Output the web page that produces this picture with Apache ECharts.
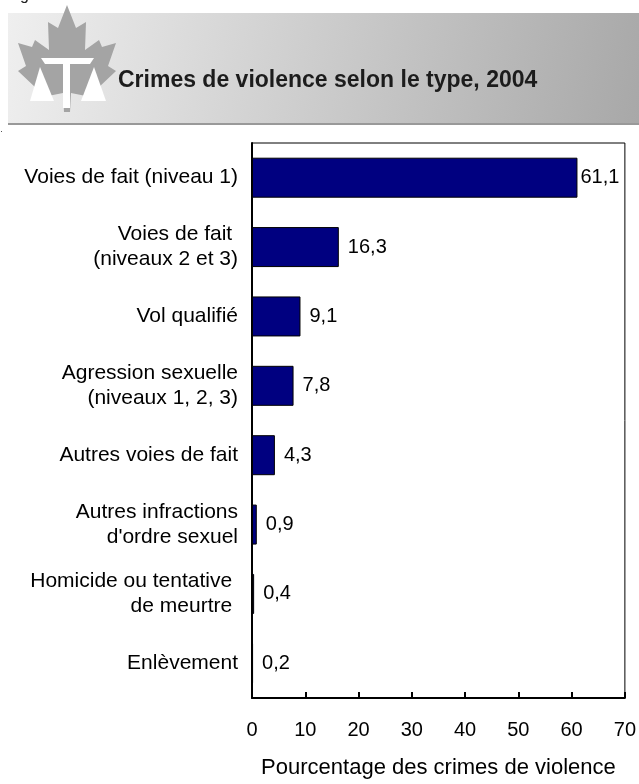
<!DOCTYPE html>
<html>
<head>
<meta charset="utf-8">
<script src="https://cdn.jsdelivr.net/npm/echarts@6/dist/echarts.min.js"></script>
<style>
html,body{margin:0;padding:0;background:#fff;}
#chart{width:639px;height:784px;}
</style>
</head>
<body>
<div id="chart"></div>
<script>
var categories = [
  'Voies de fait (niveau 1)',
  'Voies de fait \n(niveaux 2 et 3)',
  'Vol qualifié',
  'Agression sexuelle\n(niveaux 1, 2, 3)',
  'Autres voies de fait',
  'Autres infractions\nd\'ordre sexuel',
  'Homicide ou tentative \nde meurtre ',
  'Enlèvement'
];
var values = [61.1, 16.3, 9.1, 7.8, 4.3, 0.9, 0.4, 0.2];
var xTicks = [0, 10, 20, 30, 40, 50, 60, 70];
var titleText = 'Crimes de violence selon le type, 2004';
var axisTitle = 'Pourcentage des crimes de violence';

var chart = echarts.init(document.getElementById('chart'), null, {renderer: 'canvas'});

// maple leaf (right half, mirrored about x = 67)
var half = [[67,5],[76,28],[86,22],[85,50],[99,40],[102,47],[116,43],[108,66],[116,71],[98,88],[101,99],[71,93],[70,112]];
var leaf = half.slice();
for (var i = half.length - 1; i >= 0; i--) { leaf.push([134 - half[i][0], half[i][1]]); }

var font = '"Liberation Sans", Arial, sans-serif';

chart.setOption({
  animation: false,
  textStyle: {fontFamily: font},
  graphic: [
    {type: 'rect', shape: {x: 8, y: 13, width: 631, height: 112},
     style: {fill: new echarts.graphic.LinearGradient(0, 0, 1, 1, [
       {offset: 0, color: '#efefef'}, {offset: 1, color: '#a8a8a8'}])}},
    {type: 'rect', shape: {x: 8, y: 123, width: 631, height: 2}, style: {fill: '#999999'}},
    {type: 'polygon', shape: {points: leaf}, style: {fill: '#a4a4a4'}},
    {type: 'polygon', shape: {points: [[41,58],[94,58],[90,64],[70,64],[67,67],[64,64],[45,64]]}, style: {fill: '#ffffff'}},
    {type: 'rect', shape: {x: 63, y: 64, width: 7, height: 44}, style: {fill: '#ffffff'}},
    {type: 'polygon', shape: {points: [[40,67],[30,101],[54,101]]}, style: {fill: '#ffffff'}},
    {type: 'polygon', shape: {points: [[94,67],[81,101],[106,101]]}, style: {fill: '#ffffff'}},
    {type: 'text', left: 118, top: 69, style: {text: titleText, fontSize: 23, fontWeight: 'bold', fill: '#1c1c1c', fontFamily: font}},
    {type: 'text', left: 20, top: -12, style: {text: 'g', fontSize: 16, fill: '#222', fontFamily: font}},
    {type: 'rect', shape: {x: 1, y: 131, width: 1, height: 1}, style: {fill: '#555'}}
  ],
  grid: {left: 252, top: 143, right: 9, bottom: 77, show: true, borderColor: '#000', borderWidth: 1, containLabel: false},
  xAxis: {
    type: 'value', min: 0, max: 70, interval: 10,
    axisLine: {show: true, onZero: false, lineStyle: {color: '#000', width: 2}},
    axisTick: {show: true, inside: true, length: 6, lineStyle: {color: '#000', width: 2}},
    axisLabel: {fontSize: 20, color: '#000', margin: 22, fontFamily: font,
      formatter: function (v) { return xTicks.indexOf(v) >= 0 ? String(v) : ''; }},
    splitLine: {show: false},
    name: axisTitle, nameLocation: 'middle', nameGap: 59,
    nameTextStyle: {fontSize: 22, color: '#000', fontFamily: font}
  },
  yAxis: {
    type: 'category', data: categories, inverse: true,
    axisLine: {show: true, lineStyle: {color: '#000', width: 2}},
    axisTick: {show: false},
    axisLabel: {fontSize: 21, color: '#000', margin: 14, lineHeight: 25, align: 'right', fontFamily: font}
  },
  series: [{
    type: 'bar', barWidth: 40,
    data: values.map(function (v, i) { return i === 0 ? {value: v, label: {distance: 3}} : v; }),
    itemStyle: {color: '#000080', borderColor: '#000', borderWidth: 1},
    label: {show: true, position: 'right', distance: 9, fontSize: 20, color: '#000', fontFamily: font,
      formatter: function (p) { return String(p.value).replace('.', ','); }}
  }]
});
</script>
</body>
</html>
